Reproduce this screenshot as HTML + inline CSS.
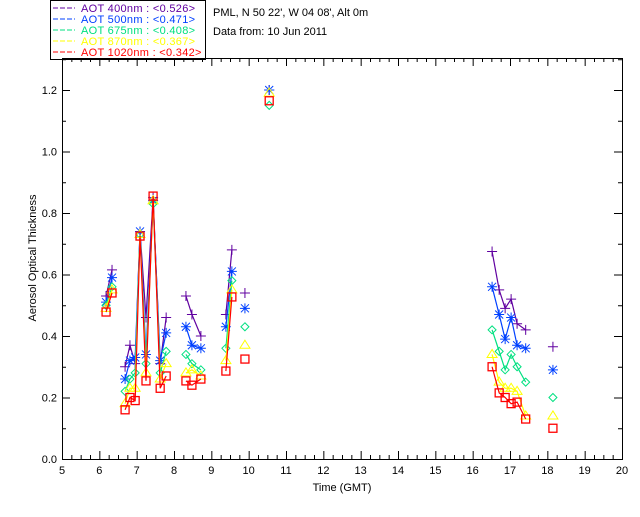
<!DOCTYPE html>
<html><head><meta charset="utf-8"><style>
body{margin:0;background:#fff;}
svg text{font-family:"Liberation Sans",sans-serif;font-size:11px;}
</style></head><body>
<svg id="c" width="640" height="512" xmlns="http://www.w3.org/2000/svg">
<rect width="640" height="512" fill="#fff"/>
<g>
<rect x="50.5" y="0.5" width="155" height="59" fill="none" stroke="#000"/>
</g>
<text x="213" y="16">PML, N 50 22', W 04 08', Alt 0m</text>
<text x="213" y="35">Data from: 10 Jun 2011</text>
<text x="342" y="491" text-anchor="middle">Time (GMT)</text>
<text transform="translate(36,258) rotate(-90)" text-anchor="middle" font-size="10">Aerosol Optical Thickness</text>
<g id="axes"></g><g id="plot"></g>
</svg>
<script>
const times=[6.18,6.34,null,6.69,6.82,6.96,7.09,7.25,7.44,7.63,7.79,null,8.32,8.48,8.72,null,9.39,9.55,null,9.9,null,10.55,null,16.52,16.71,16.87,17.03,17.19,17.42,null,18.15];
const names=["AOT  400nm","AOT  500nm","AOT  675nm","AOT  870nm","AOT 1020nm"];
const means=["<0.526>","<0.471>","<0.408>","<0.367>","<0.342>"];
const colors=["#6000a0","#0040ff","#00e080","#ffff00","#ff0000"];
const aot400=[0.53,0.615,null,0.30,0.37,0.31,0.74,0.46,0.85,0.31,0.46,null,0.53,0.47,0.40,null,0.47,0.68,null,0.54,null,1.20,null,0.675,0.55,0.49,0.52,0.44,0.42,null,0.365];
const aot500=[0.51,0.59,null,0.26,0.32,0.33,0.74,0.34,0.84,0.32,0.41,null,0.43,0.37,0.36,null,0.43,0.61,null,0.49,null,1.20,null,0.56,0.47,0.39,0.46,0.37,0.36,null,0.29];
const aot675=[0.50,0.56,null,0.22,0.26,0.28,0.73,0.31,0.83,0.28,0.35,null,0.34,0.31,0.29,null,0.36,0.58,null,0.43,null,1.15,null,0.42,0.35,0.29,0.34,0.30,0.25,null,0.20];
const aot870=[0.49,0.55,null,0.18,0.23,0.23,0.73,0.28,0.84,0.26,0.31,null,0.28,0.29,0.27,null,0.32,0.55,null,0.37,null,1.19,null,0.34,0.25,0.23,0.23,0.22,0.14,null,0.14];
const aot1020=[0.478,0.54,null,0.16,0.20,0.19,0.725,0.254,0.855,0.23,0.27,null,0.254,0.24,0.26,null,0.286,0.527,null,0.325,null,1.165,null,0.30,0.215,0.20,0.18,0.185,0.13,null,0.10];
const xTicks=[5,6,7,8,9,10,11,12,13,14,15,16,17,18,19,20];
const yTicks=["0.0","0.2","0.4","0.6","0.8","1.0","1.2"];
const series=[aot400,aot500,aot675,aot870,aot1020];
const X0=62,X1=622,Y0=459,YT=58;
const sx=t=>X0+(t-5)*(X1-X0)/15;
const sy=v=>Y0-v*307.5;
const NS="http://www.w3.org/2000/svg";
function mk(tag,attrs,parent){const e=document.createElementNS(NS,tag);for(const k in attrs)e.setAttribute(k,attrs[k]);parent.appendChild(e);return e;}
const ax=document.getElementById('axes'),pl=document.getElementById('plot'),svg=document.getElementById('c');
const fr=mk('rect',{x:X0+.5,y:YT+.5,width:X1-X0,height:Y0-YT,fill:'none',stroke:'#000'},ax);


xTicks.forEach(t=>{const x=sx(t)+.5;
 mk('line',{x1:x,x2:x,y1:Y0,y2:Y0-8,stroke:'#000'},ax);mk('line',{x1:x,x2:x,y1:YT,y2:YT+8,stroke:'#000'},ax);
 if(t<20){for(let m=1;m<4;m++){const xm=sx(t+m/4)+.5;mk('line',{x1:xm,x2:xm,y1:Y0,y2:Y0-4,stroke:'#000'},ax);mk('line',{x1:xm,x2:xm,y1:YT,y2:YT+4,stroke:'#000'},ax);}}
 const tx=mk('text',{x:sx(t),y:Y0+15,'text-anchor':'middle'},ax);tx.textContent=t;
 
 });
yTicks.forEach(s=>{const v=parseFloat(s),y=sy(v)+.5;
 mk('line',{x1:X0,x2:X0+8,y1:y,y2:y,stroke:'#000'},ax);mk('line',{x1:X1-8,x2:X1,y1:y,y2:y,stroke:'#000'},ax);
 const ym=sy(v+0.1)+.5; if(ym>YT){mk('line',{x1:X0,x2:X0+4,y1:ym,y2:ym,stroke:'#000'},ax);mk('line',{x1:X1-4,x2:X1,y1:ym,y2:ym,stroke:'#000'},ax);}
 const tx=mk('text',{x:X0-5,y:sy(v)+4,'text-anchor':'end'},ax);tx.textContent=s;
 
 });
function marker(i,x,y,g,c){
 if(i==0){mk('path',{d:`M${x-5},${y}h10M${x},${y-5}v10`,stroke:c,fill:'none'},g);}
 else if(i==1){mk('path',{d:`M${x-5},${y}h10M${x},${y-5}v10M${x-4},${y-4}l8,8M${x-4},${y+4}l8,-8`,stroke:c,fill:'none'},g);}
 else if(i==2){mk('path',{d:`M${x},${y-4}l4,4l-4,4l-4,-4z`,stroke:c,fill:'none'},g);}
 else if(i==3){mk('path',{d:`M${x},${y-5}l5,8h-10z`,stroke:c,fill:'none'},g);}
 else {mk('rect',{x:x-4,y:y-4,width:8,height:8,stroke:c,fill:'none','stroke-width':1.3},g);}
}
series.forEach((vals,i)=>{
 const g=mk('g',{},pl);
 
 
 let d='',pen=false;
 vals.forEach((v,k)=>{if(v==null||times[k]==null){pen=false;return;}d+=(pen?'L':'M')+sx(times[k])+','+sy(v);pen=true;});
 mk('path',{d:d,stroke:colors[i],fill:'none','stroke-width':1.2},g);
 vals.forEach((v,k)=>{if(v==null)return;marker(i,sx(times[k]),sy(v),g,colors[i]);});
 const ly=12+i*11;
 mk('line',{x1:53,x2:75,y1:ly-4,y2:ly-4,stroke:colors[i],'stroke-dasharray':'5,2'},svg);
 const lt=mk('text',{x:81,y:ly,fill:colors[i],'xml:space':'preserve','letter-spacing':'0.3'},svg);lt.textContent=names[i]+' : '+means[i];
 
 
});
</script>
</body></html>
